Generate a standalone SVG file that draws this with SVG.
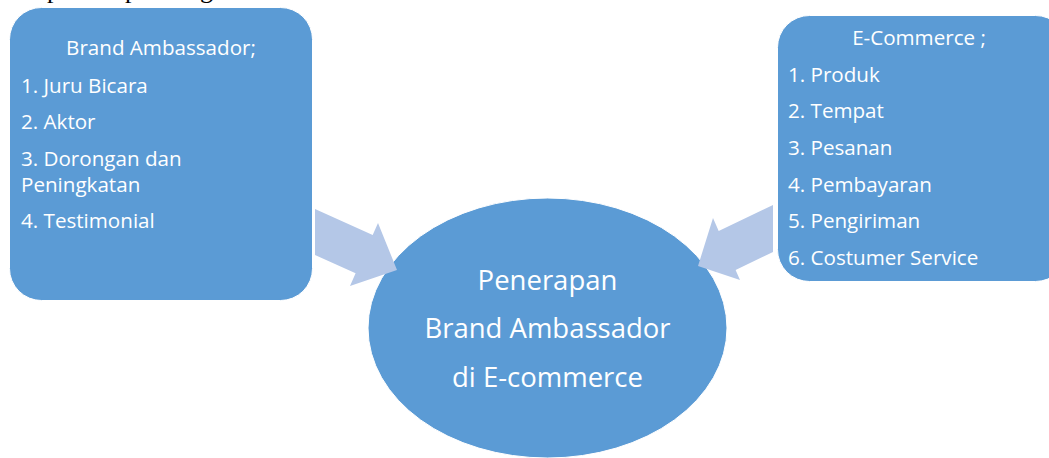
<svg xmlns="http://www.w3.org/2000/svg" width="1049" height="458" viewBox="0 0 1049 458">
  <style>
    .box { fill: #5B9BD5; stroke: #FFFFFF; stroke-width: 1; }
    .arrow { fill: #B4C7E7; }
    .t { font-family: "Open Sans", Lato, sans-serif; fill: #FFFFFF; }
    .s { font-size: 20.6px; }
    .l { font-size: 27.5px; }
    .top { font-family: "Liberation Serif", serif; font-size: 26px; fill: #000000; }
  </style>
  <rect width="1049" height="458" fill="#FFFFFF"/>
  <g id="caption-fragment">
    <text class="top" y="-2"><tspan x="47">p</tspan><tspan x="125">p</tspan><tspan x="200">g</tspan></text>
  </g>
  <g id="node-brand-ambassador">
    <rect class="box" x="9.5" y="7.5" width="303" height="293" rx="32" ry="32"/>
    <text class="t s" x="161" y="55" text-anchor="middle">Brand Ambassador;</text>
    <text class="t s" x="21" y="93">1. Juru Bicara</text>
    <text class="t s" x="21" y="129">2. Aktor</text>
    <text class="t s" x="21" y="166">3. Dorongan dan</text>
    <text class="t s" x="21" y="192">Peningkatan</text>
    <text class="t s" x="21" y="228">4. Testimonial</text>
  </g>
  <g id="node-ecommerce">
    <rect class="box" x="777.5" y="15.5" width="290" height="266" rx="32" ry="32"/>
    <text class="t s" x="919" y="45" text-anchor="middle">E-Commerce ;</text>
    <text class="t s" x="788" y="82">1. Produk</text>
    <text class="t s" x="788" y="118">2. Tempat</text>
    <text class="t s" x="788" y="155">3. Pesanan</text>
    <text class="t s" x="788" y="192">4. Pembayaran</text>
    <text class="t s" x="788" y="228">5. Pengiriman</text>
    <text class="t s" x="788" y="265">6. Costumer Service</text>
  </g>
  <g id="node-penerapan">
    <ellipse class="box" cx="547.5" cy="328" rx="179.5" ry="130"/>
    <text class="t l" x="547.5" y="290" text-anchor="middle">Penerapan</text>
    <text class="t l" x="547.5" y="338" text-anchor="middle">Brand Ambassador</text>
    <text class="t l" x="547.5" y="387" text-anchor="middle">di E-commerce</text>
  </g>
  <g id="connectors">
    <polygon class="arrow" points="315,209 372.7,235 378,223 397,270 350,286 355.6,273.3 315,255"/>
    <polygon class="arrow" points="773,205 718.7,231 713,218 698,266 740,280 735.6,270 773,252"/>
  </g>
</svg>
